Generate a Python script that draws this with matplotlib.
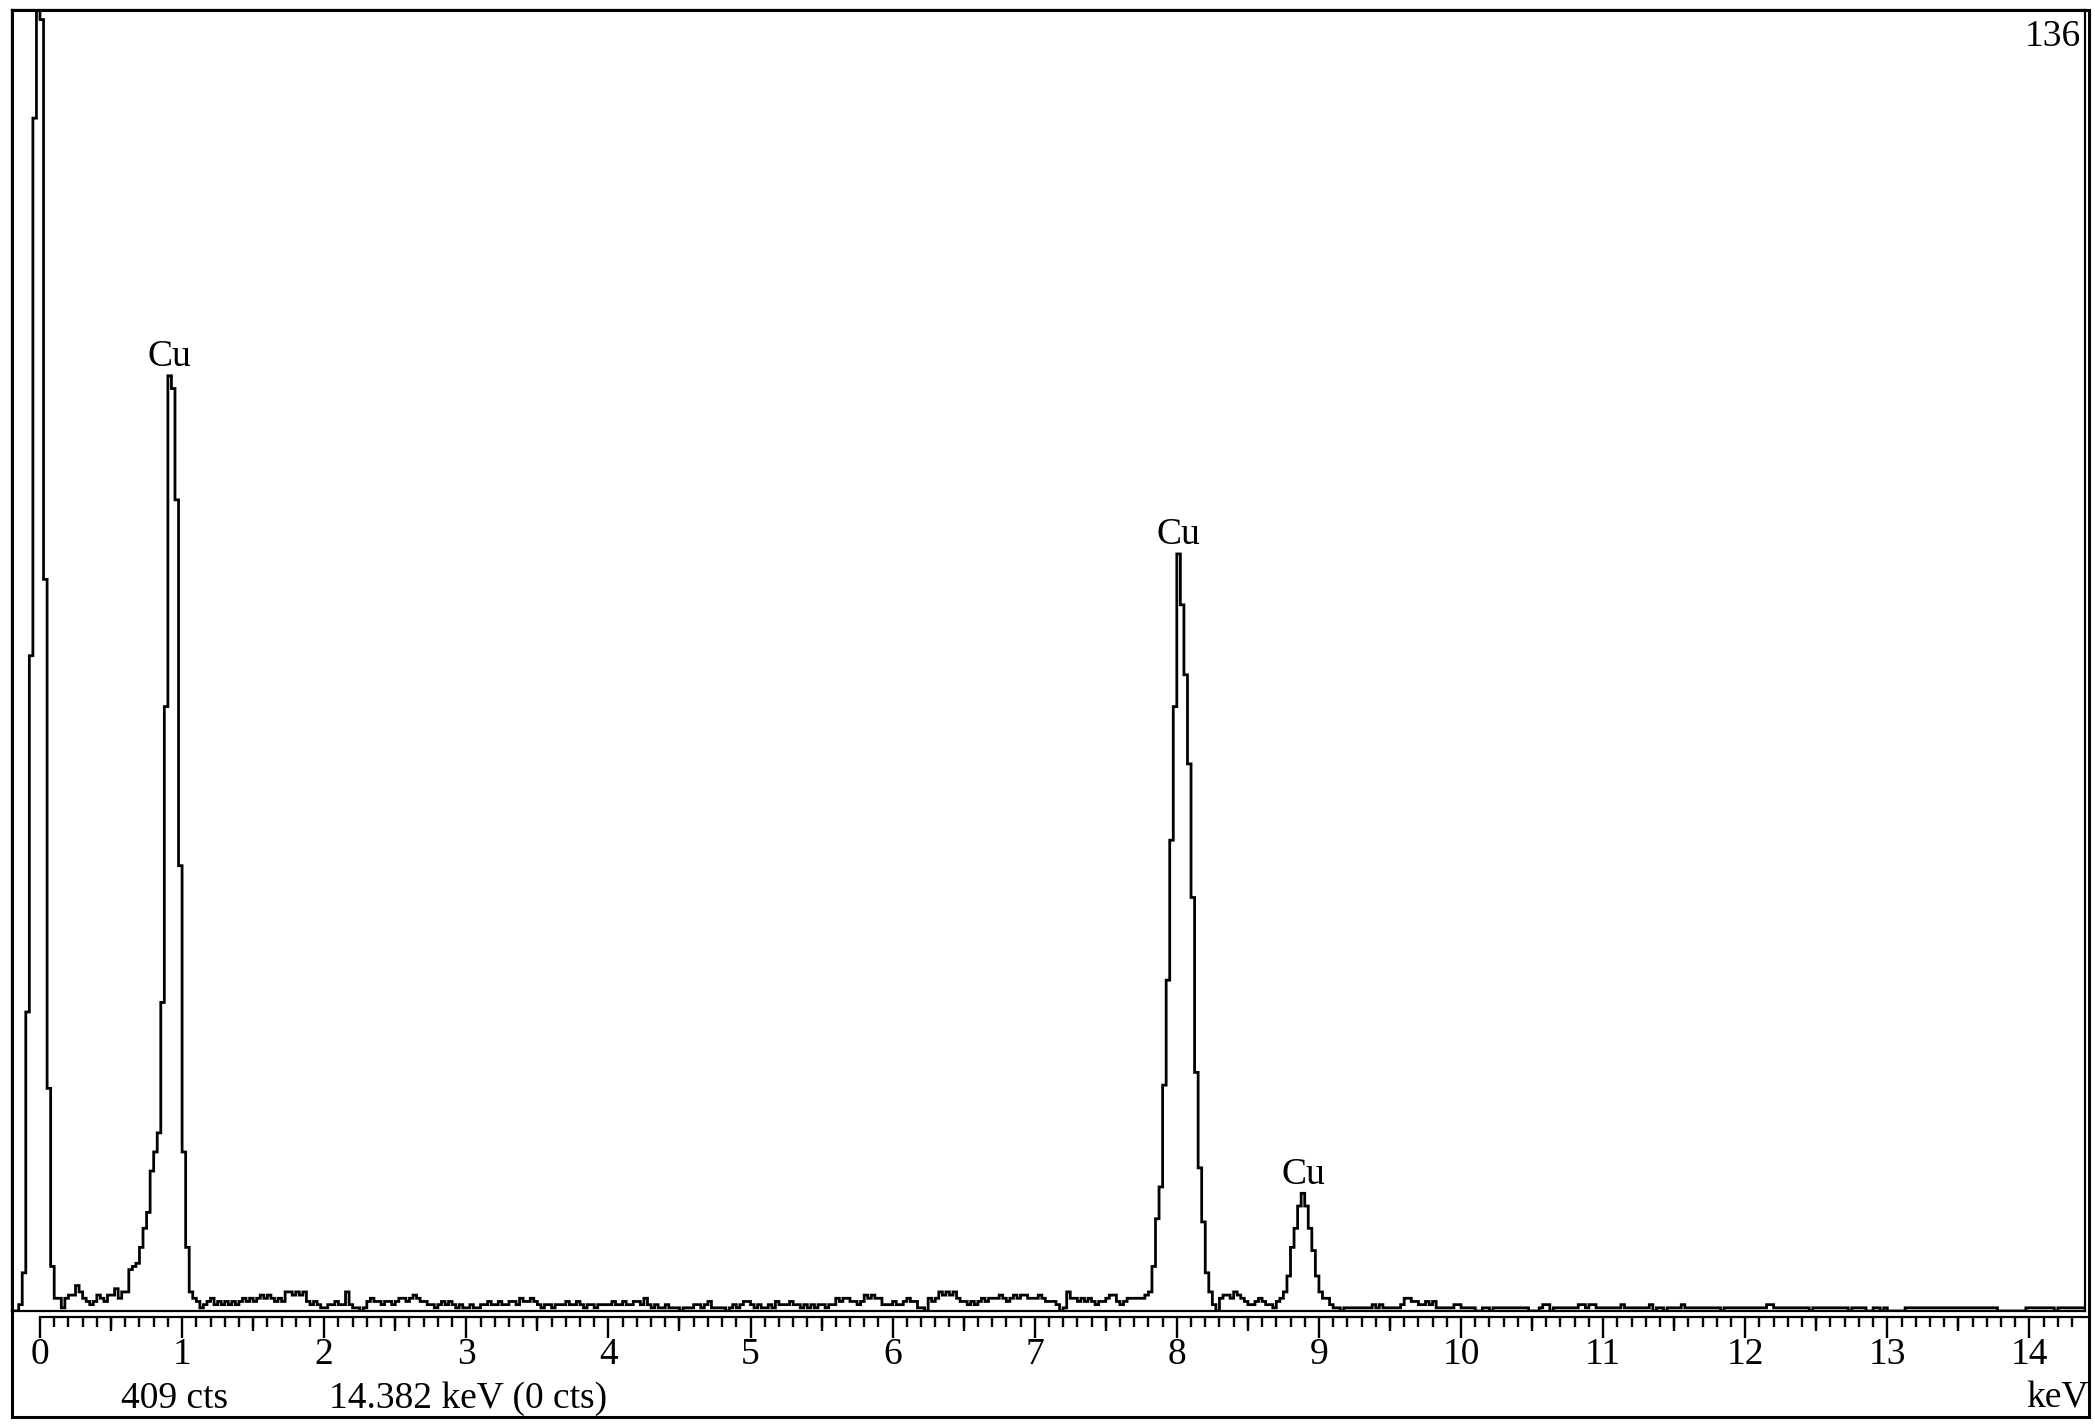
import numpy as np
import matplotlib.pyplot as plt
from matplotlib.patches import Rectangle

plt.rcParams['font.family'] = ['Liberation Serif', 'DejaVu Serif']

# EDS spectrum, counts per 0.025 keV channel
e_start = -0.2
bin_w = 0.025
counts_neg = [0, 0, 2, 12, 94, 206, 375, 560]
counts_0 = [406, 230, 70, 14, 4, 4, 1, 4, 5, 5, 8, 6, 4, 3, 2, 3, 5, 4, 3, 5,
            5, 7, 4, 6, 6, 13, 14, 15, 20, 26, 31, 44, 50, 56, 97, 190, 294, 290, 255, 140]
counts_1 = [50, 20, 6, 4, 3, 1, 2, 3, 4, 2, 3, 2, 3, 2, 3, 2, 3, 4, 3, 4,
            3, 4, 5, 4, 5, 4, 3, 4, 3, 6, 6, 5, 6, 5, 6, 3, 2, 3, 2, 1]
counts_2 = [1, 2, 2, 3, 2, 2, 6, 2, 1, 1, 0, 1, 3, 4, 3, 3, 2, 3, 3, 2,
            3, 4, 4, 3, 4, 5, 4, 3, 3, 2, 2, 1, 2, 3, 2, 3, 2, 1, 2, 1]
counts_3 = [1, 2, 1, 1, 2, 2, 3, 2, 2, 3, 2, 2, 3, 3, 2, 4, 3, 3, 4, 3,
            2, 1, 2, 2, 1, 2, 2, 2, 3, 2, 2, 3, 2, 1, 2, 2, 1, 2, 2, 2]
counts_4 = [2, 3, 2, 2, 3, 2, 2, 3, 3, 2, 4, 2, 1, 2, 1, 1, 2, 1, 1, 1,
            0, 1, 1, 1, 2, 2, 1, 2, 3, 1, 1, 1, 1, 0, 1, 2, 1, 2, 3, 3]
counts_5 = [2, 1, 2, 1, 1, 2, 1, 3, 2, 2, 2, 3, 2, 2, 1, 2, 1, 2, 1, 2,
            2, 1, 2, 2, 4, 3, 4, 4, 3, 3, 2, 3, 5, 4, 5, 4, 4, 2, 2, 2]
counts_6 = [3, 2, 2, 3, 4, 3, 3, 1, 1, 0, 4, 3, 4, 6, 5, 6, 5, 6, 4, 3,
            3, 2, 3, 2, 3, 4, 3, 4, 4, 4, 5, 4, 3, 4, 5, 4, 5, 5, 4, 4]
counts_7 = [4, 5, 4, 3, 3, 3, 2, 0, 1, 6, 4, 4, 3, 4, 3, 4, 3, 2, 3, 3,
            4, 5, 5, 3, 2, 3, 4, 4, 4, 4, 4, 5, 6, 14, 29, 39, 71, 104, 148, 190]
counts_8 = [238, 222, 200, 172, 130, 75, 45, 28, 12, 6, 2, 0, 4, 5, 5, 4, 6, 5, 4, 3,
            2, 2, 3, 4, 3, 2, 2, 1, 3, 4, 6, 11, 20, 26, 33, 37, 33, 26, 19, 11]
counts_9 = [6, 4, 4, 2, 1, 1, 0, 1, 1, 1, 1, 1, 1, 1, 1, 2, 1, 2, 1, 1,
            1, 1, 1, 2, 4, 4, 3, 3, 2, 2, 3, 2, 3, 1, 1, 1, 1, 1, 2, 2]
counts_10 = [1, 1, 1, 1, 0, 0, 1, 1, 0, 1, 1, 1, 1, 1, 1, 1, 1, 1, 1, 0,
             0, 0, 1, 2, 2, 0, 1, 1, 1, 1, 1, 1, 1, 2, 2, 1, 2, 2, 1, 1]
counts_11 = [1, 1, 1, 1, 1, 2, 1, 1, 1, 1, 1, 1, 1, 2, 0, 1, 1, 0, 1, 1,
             1, 1, 2, 1, 1, 1, 1, 1, 1, 1, 1, 1, 1, 0, 1, 1, 1, 1, 1, 1]
counts_12 = [1, 1, 1, 1, 1, 1, 2, 2, 1, 1, 1, 1, 1, 1, 1, 1, 1, 1, 0, 1,
             1, 1, 1, 1, 1, 1, 1, 1, 1, 0, 1, 1, 1, 1, 0, 0, 1, 1, 0, 1]
counts_13 = [0, 0, 0, 0, 0, 1, 1, 1, 1, 1, 1, 1, 1, 1, 1, 1, 1, 1, 1, 1,
             1, 1, 1, 1, 1, 1, 1, 1, 1, 1, 1, 0, 0, 0, 0, 0, 0, 0, 0, 1]
counts_14 = [1, 1, 1, 1, 1, 1, 1, 0, 1, 1, 1, 1, 1, 1, 1, 1]

cu_lines = [0.91, 8.01, 8.89]   # keV of the labelled Cu peaks
tick_labels = [str(i) for i in range(15)]
full_scale = 409                # cts
cursor_text = '14.382 keV (0 cts)'
spectrum_no = '136'

counts = np.array(counts_neg + counts_0 + counts_1 + counts_2 + counts_3 + counts_4
                  + counts_5 + counts_6 + counts_7 + counts_8 + counts_9 + counts_10
                  + counts_11 + counts_12 + counts_13 + counts_14)
edges = e_start + bin_w * np.arange(len(counts) + 1)
centers = edges[:-1] + bin_w / 2

W, H = 2095, 1427
def fx(px):
    return px / W
def fy(py):
    return 1 - py / H

x_left, x_right = -0.197, 14.391
px_per_kev = (2085 - 12) / (x_right - x_left)

fig = plt.figure(figsize=(W / 100, H / 100), dpi=100)

ax = fig.add_axes([fx(12), fy(1311), fx(2085) - fx(12), fy(10) - fy(1311)])
ax.stairs(counts, edges, color='black', lw=2.0, baseline=None)
ax.set_xlim(x_left, x_right)
ax.set_ylim(0, full_scale)
ax.set_xticks([])
ax.set_yticks([])
for s in ax.spines.values():
    s.set_linewidth(1.6)

for e in cu_lines:
    near = np.abs(centers - e) < 0.05
    ax.annotate('Cu', (e, counts[near].max()), xytext=(0, 7), textcoords='offset points',
                ha='center', va='baseline', fontsize=27)

# energy scale under the spectrum
tick_right = x_right + 4 / px_per_kev
tpos = [fx(12), fy(1317), fx(2089) - fx(12), 0.0001]
tax = fig.add_axes(tpos)
hax = fig.add_axes(tpos)
for a in (tax, hax):
    a.set_xlim(x_left, tick_right)
    a.set_yticks([])
    a.patch.set_visible(False)
    for k in ('top', 'left', 'right'):
        a.spines[k].set_visible(False)
tax.spines['bottom'].set_bounds(0, tick_right)
tax.spines['bottom'].set_linewidth(1.6)
hax.spines['bottom'].set_visible(False)

tax.set_xticks(range(15))
tax.set_xticklabels(tick_labels, fontsize=27)
tax.set_xticks(np.arange(1, 144) * 0.1, minor=True)
tax.tick_params(axis='x', which='major', length=15, width=1.7, pad=0)
tax.tick_params(axis='x', which='minor', length=7, width=1.7)
hax.set_xticks(np.arange(0.5, 14, 1))
hax.tick_params(axis='x', length=10, width=1.7, labelbottom=False)

fig.text(fx(2081), fy(46), spectrum_no, ha='right', va='baseline', fontsize=27)
fig.text(fx(175), fy(1408), '%d cts' % full_scale, ha='center', va='baseline', fontsize=27)
fig.text(fx(468), fy(1408), cursor_text, ha='center', va='baseline', fontsize=27)
fig.text(fx(2089), fy(1408), 'keV', ha='right', va='baseline', fontsize=27)

fig.add_artist(Rectangle((fx(12), fy(1417)), fx(2089) - fx(12), fy(10) - fy(1417),
                         transform=fig.transFigure, fill=False, lw=2.2, ec='black'))

fig.savefig('out.png', dpi=100)
